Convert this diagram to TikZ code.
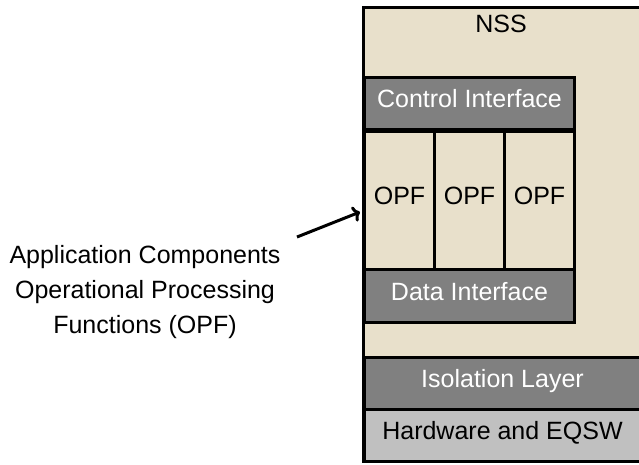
\documentclass[tikz,border=0pt]{standalone}
\usepackage{fontspec}
\setmainfont{Liberation Sans}
\usetikzlibrary{arrows.meta}
\definecolor{beige}{HTML}{E8E0CB}
\definecolor{dgray}{HTML}{808080}
\definecolor{lgray}{HTML}{C0C0C0}
\tikzset{
  layer/.style={draw=black, line width=3pt, anchor=north west, inner sep=0pt, text height=18pt, text depth=10pt, font=\fontsize{25}{28}\selectfont},
  darkbox/.style={layer, fill=dgray, text=white},
  opfbox/.style={layer, fill=beige, text=black},
}
\begin{document}
\begin{tikzpicture}[x=1pt,y=-1pt]
\useasboundingbox (0,0) rectangle (639,464);
% outer NSS area
\fill[beige] (363,7) rectangle (639,461);
\draw[line width=3pt] (641,7) -- (363,7) -- (363,461) -- (641,461);
\node[font=\fontsize{25}{28}\selectfont, text height=18pt, text depth=10pt] (nss) at (501,28) {NSS};
% control interface
\node[darkbox, minimum width=210pt, minimum height=52pt] (ci) at (363,76) {Control Interface};
\node[opfbox, minimum width=70pt, minimum height=138pt] (o1) at (363,130) {OPF};
\node[opfbox, minimum width=70pt, minimum height=138pt] (o2) at (433,130) {OPF};
\node[opfbox, minimum width=70pt, minimum height=138pt] (o3) at (503,130) {OPF};
\node[darkbox, minimum width=210pt, minimum height=53pt] (di) at (363,268) {Data Interface};
% isolation and hardware layers
\node[darkbox, minimum width=280pt, minimum height=52pt] (iso) at (363,356) {\hspace*{-4pt}Isolation Layer\hspace*{0pt}};
\node[layer, fill=lgray, minimum width=280pt, minimum height=52pt] (hw) at (363,408) {Hardware and EQSW\hspace*{4pt}};
% label
\node[align=center, font=\fontsize{25}{35}\selectfont] (lbl) at (145,292) {Application Components\\Operational Processing\\Functions (OPF)};
\coordinate (tail) at (297,237);
\draw[line width=3pt, -{To[length=7pt,width=16pt]}] (tail) -- (360,212);
\end{tikzpicture}
\end{document}
